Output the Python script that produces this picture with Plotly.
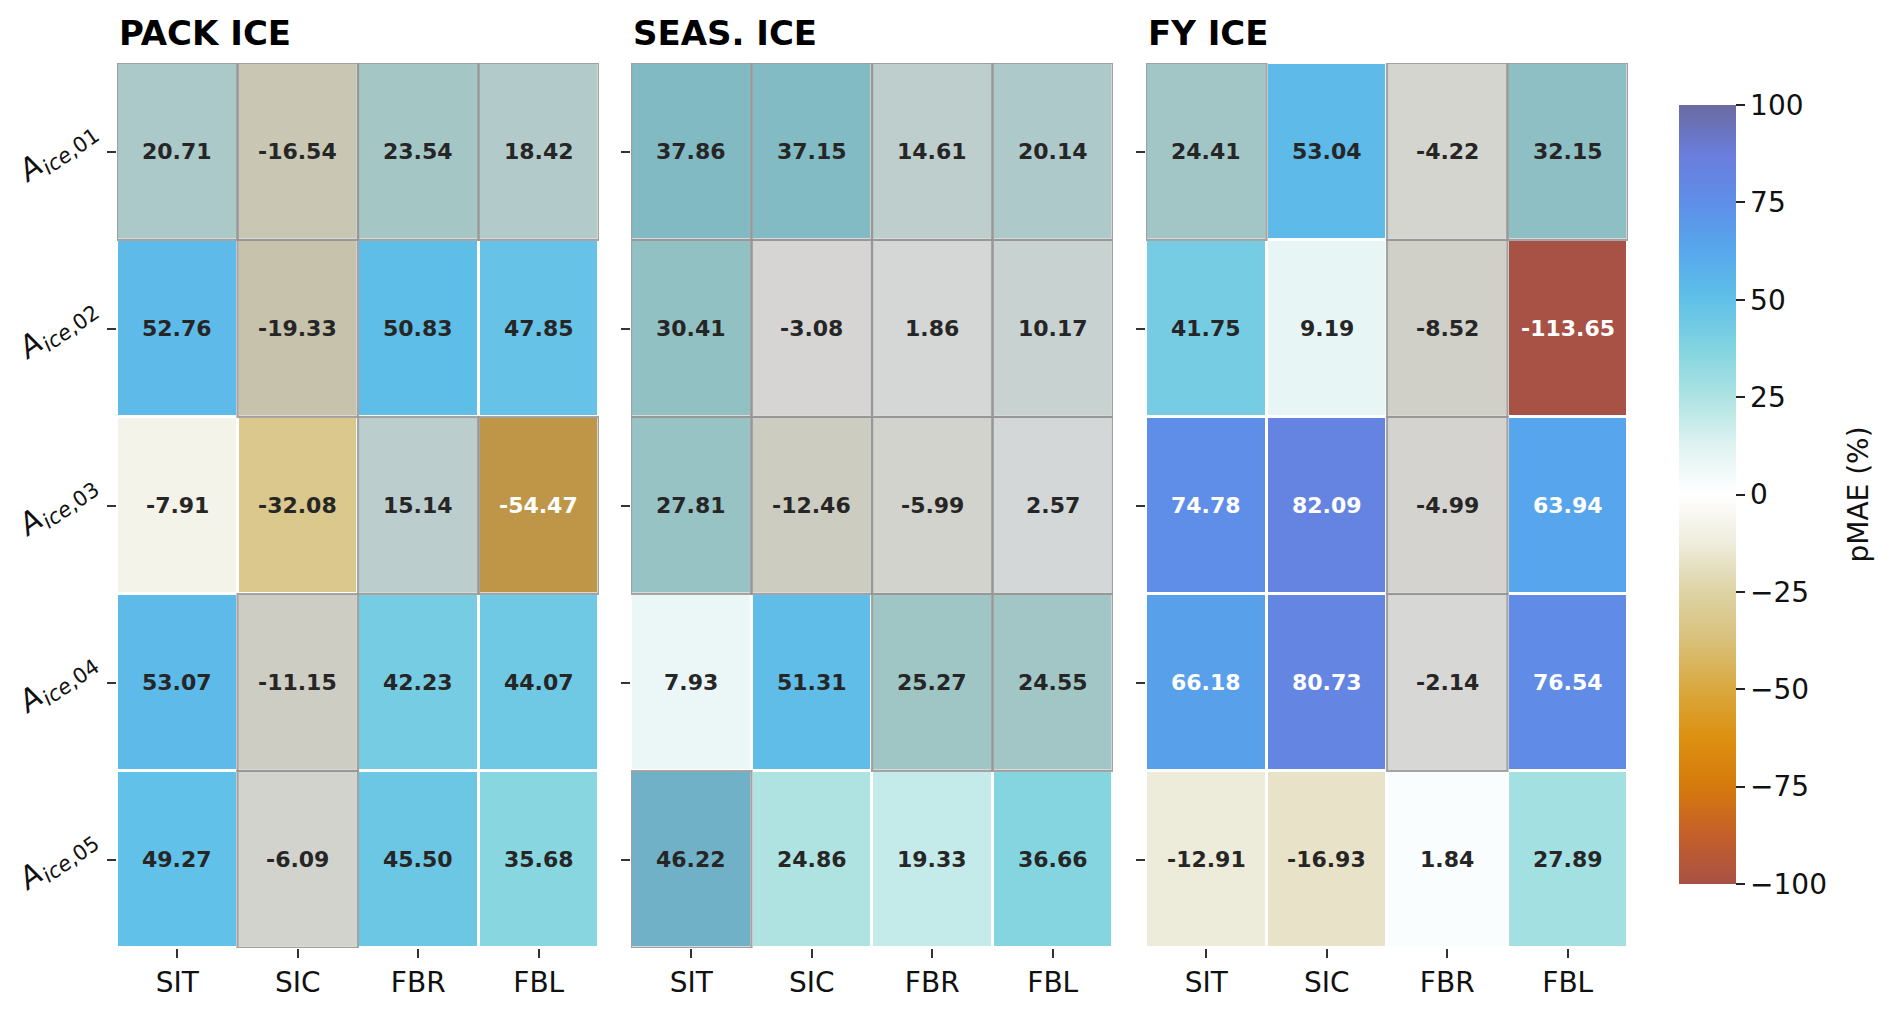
import plotly.graph_objects as go

# ---------------- data ----------------
variables = ["SIT", "SIC", "FBR", "FBL"]
experiments = ["Aice01", "Aice02", "Aice03", "Aice04", "Aice05"]
experiment_labels = ["ice,01", "ice,02", "ice,03", "ice,04", "ice,05"]
panel_titles = ["PACK ICE", "SEAS. ICE", "FY ICE"]

pack_values = [
    [20.71, -16.54, 23.54, 18.42],
    [52.76, -19.33, 50.83, 47.85],
    [-7.91, -32.08, 15.14, -54.47],
    [53.07, -11.15, 42.23, 44.07],
    [49.27, -6.09, 45.50, 35.68],
]
seas_values = [
    [37.86, 37.15, 14.61, 20.14],
    [30.41, -3.08, 1.86, 10.17],
    [27.81, -12.46, -5.99, 2.57],
    [7.93, 51.31, 25.27, 24.55],
    [46.22, 24.86, 19.33, 36.66],
]
fy_values = [
    [24.41, 53.04, -4.22, 32.15],
    [41.75, 9.19, -8.52, -113.65],
    [74.78, 82.09, -4.99, 63.94],
    [66.18, 80.73, -2.14, 76.54],
    [-12.91, -16.93, 1.84, 27.89],
]

# 1 = not significant (greyed out)
pack_mask = [
    [1, 1, 1, 1],
    [0, 1, 0, 0],
    [0, 0, 1, 1],
    [0, 1, 0, 0],
    [0, 1, 0, 0],
]
seas_mask = [
    [1, 1, 1, 1],
    [1, 1, 1, 1],
    [1, 1, 1, 1],
    [0, 0, 1, 1],
    [1, 0, 0, 0],
]
fy_mask = [
    [1, 0, 1, 1],
    [0, 0, 1, 0],
    [0, 0, 1, 0],
    [0, 0, 1, 0],
    [0, 0, 0, 0],
]

cbar_ticks = [-100, -75, -50, -25, 0, 25, 50, 75, 100]
cbar_title = "pMAE (%)"

# ---------------- style ----------------
W, H = 1892, 1011
FONT = "DejaVu Sans"

cs_points = [
    (-100, "#a85145"), (-87.5, "#c45f2a"), (-75, "#d57a0c"), (-62.5, "#dc9010"),
    (-50, "#d9a83e"), (-37.5, "#d9c07a"), (-25, "#ddd3a4"), (-12.5, "#eeecdc"),
    (0, "#ffffff"), (12.5, "#dff3f1"), (25, "#ade3e2"), (37.5, "#82d4e0"),
    (50, "#60c0e8"), (62.5, "#56a8ec"), (75, "#5f8ee8"), (87.5, "#6a7ddc"),
    (100, "#6a6aa0"),
]
colorscale = [[(v + 100) / 200, c] for v, c in cs_points]

panels = [
    (pack_values, pack_mask),
    (seas_values, seas_mask),
    (fy_values, fy_mask),
]

x_px = [(117, 599), (631, 1113), (1146, 1628)]
y_top, y_bot = 63, 948
cb_top, cb_bot = 105, 884

fig = go.Figure()
annotations = []
shapes = []

for k, ((vals, mask), (xl, xr)) in enumerate(zip(panels, x_px)):
    n = "" if k == 0 else str(k + 1)
    fig.add_trace(go.Heatmap(
        z=vals, x=variables, y=experiments,
        zmin=-100, zmax=100, colorscale=colorscale,
        xgap=3, ygap=3,
        xaxis="x" + n, yaxis="y" + n,
        showscale=(k == 0),
        hoverinfo="skip",
        colorbar=dict(
            x=1679 / W, xanchor="left", thickness=57, xpad=0, ypad=0,
            y=1 - (cb_top + cb_bot) / 2 / H, yanchor="middle",
            len=(cb_bot - cb_top) / H, lenmode="fraction",
            outlinewidth=0, ticks="outside", ticklen=9, tickwidth=2,
            tickcolor="#222",
            tickvals=cbar_ticks,
            ticktext=[str(t).replace("-", "\u2212") for t in cbar_ticks],
            tickfont=dict(family=FONT, size=28, color="#111"),
        ),
    ))
    layout_x = dict(
        domain=[xl / W, xr / W], anchor="y" + n,
        range=[-0.5, 3.5], showgrid=False, zeroline=False, showline=False,
        ticks="outside", ticklen=9, tickwidth=2, tickcolor="#333",
        tickfont=dict(family=FONT, size=28, color="#111"),
        automargin=False,
    )
    layout_y = dict(
        domain=[1 - y_bot / H, 1 - y_top / H], anchor="x" + n,
        range=[4.5, -0.5], showgrid=False, zeroline=False, showline=False,
        ticks="outside", ticklen=9, tickwidth=2, tickcolor="#333",
        showticklabels=False,
        tickmode="array", tickvals=experiments,
        automargin=False,
    )
    fig.update_layout(**{"xaxis" + n: layout_x, "yaxis" + n: layout_y})

    for i, row in enumerate(vals):
        for j, v in enumerate(row):
            if mask[i][j]:
                shapes.append(dict(
                    type="rect", xref="x" + n, yref="y" + n,
                    x0=j - 0.5, x1=j + 0.5, y0=i - 0.5, y1=i + 0.5,
                    fillcolor="rgba(128,128,128,0.30)",
                    line=dict(color="rgba(150,150,150,0.85)", width=2.2),
                    layer="above",
                ))
            annotations.append(dict(
                x=variables[j], y=experiments[i], xref="x" + n, yref="y" + n,
                text="<b>%.2f</b>" % v, showarrow=False,
                font=dict(family=FONT, size=22,
                          color="#ffffff" if abs(v) >= 54 else "#262626"),
            ))

    annotations.append(dict(
        x=xl / W, y=1 - 33 / H, xref="paper", yref="paper",
        xanchor="left", yanchor="middle", showarrow=False,
        text="<b>" + panel_titles[k] + "</b>",
        font=dict(family=FONT, size=34, color="#000"),
    ))

# y-axis labels (rotated) for the first panel
for i, s in enumerate(experiment_labels):
    sub_a, sub_b = s.split(",")
    annotations.append(dict(
        x=57 / W, y=experiments[i], xref="paper", yref="y",
        xanchor="center", yanchor="middle", showarrow=False,
        textangle=-35,
        text="<i>A</i><sub><i>" + sub_a + "</i>," + sub_b + "</sub>",
        font=dict(family=FONT, size=30, color="#111"),
    ))

annotations.append(dict(
    x=1858 / W, y=1 - (cb_top + cb_bot) / 2 / H, xref="paper", yref="paper",
    xanchor="center", yanchor="middle", showarrow=False, textangle=-90,
    text=cbar_title, font=dict(family=FONT, size=28, color="#111"),
))

fig.update_layout(
    width=W, height=H,
    margin=dict(l=0, r=0, t=0, b=0),
    paper_bgcolor="white", plot_bgcolor="white",
    annotations=annotations, shapes=shapes,
    font=dict(family=FONT),
)

fig.write_html("out.html", config={"displayModeBar": False},
               post_script="document.body.style.margin='0';document.body.style.overflow='hidden';")
